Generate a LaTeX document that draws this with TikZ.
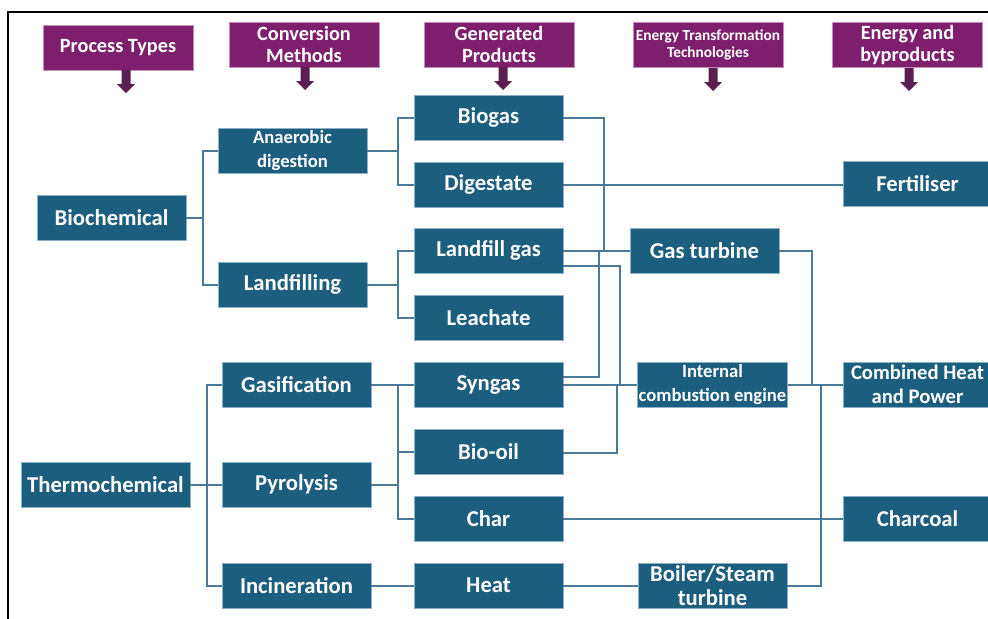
\documentclass[tikz,border=0pt]{standalone}
\usepackage{fontspec}
\setmainfont{Carlito}
\usetikzlibrary{calc}
\definecolor{teal1}{HTML}{1C5E7E}
\definecolor{tealline}{HTML}{8DB2C6}
\definecolor{purp}{HTML}{7D1F6D}
\definecolor{purpline}{HTML}{C48DB8}
\definecolor{arrc}{HTML}{5A1E50}
\definecolor{conn}{HTML}{4A7A96}
\tikzset{
  tbox/.style={fill=teal1, draw=tealline, line width=0.5pt, text=white, align=center,
    inner sep=1pt, font=\fontsize{17}{18}\selectfont\bfseries},
  hbox/.style={fill=purp, draw=purpline, line width=0.5pt, text=white, align=center,
    inner sep=1pt, minimum width=150*0.75pt, minimum height=45*0.75pt,
    font=\fontsize{15.2}{16}\selectfont\bfseries},
  cline/.style={draw=conn, line width=1.5pt},
}
\newcommand\mybox[6]{\node[tbox, minimum width=#4*0.75pt, minimum height=#5*0.75pt] (#1) at (#2,#3) {#6};}
\newcommand\dnarrow[3]{\fill[arrc] (#1-4.5,#2) -- (#1+4.5,#2) -- (#1+4.5,#3-9) -- (#1+9,#3-9) -- (#1,#3) -- (#1-9,#3-9) -- (#1-4.5,#3-9) -- cycle;}
\begin{document}
\begin{tikzpicture}[x=0.75pt,y=-0.75pt]
\useasboundingbox (0,0) rectangle (988,618);
\fill[white] (0,0) rectangle (988,618);
\draw[line width=1.5pt] (8,640) -- (8,12) -- (1010,12);

% headers
\node[hbox] (h1) at (118,47.5) {Process Types};
\node[hbox] (h2) at (304,44.5) {Conversion\\Methods};
\node[hbox] (h3) at (499,44.5) {Generated\\Products};
\node[hbox, font=\fontsize{11.5}{12.5}\selectfont\bfseries] (h4) at (708,45) {Energy Transformation\\Technologies};
\node[hbox] (h5) at (907.5,45) {Energy and\\byproducts};
\dnarrow{126}{70}{93}
\dnarrow{305}{67}{90}
\dnarrow{503}{67}{90}
\dnarrow{713}{68}{91}
\dnarrow{909}{68}{91}

% column 1
\mybox{bio}{111.5}{217.5}{149}{45}{Biochemical}
\mybox{thermo}{105.5}{484.5}{169}{45}{Thermochemical}
% column 2
\mybox{ana}{292.5}{150.5}{149}{45}{\fontsize{14}{15}\selectfont Anaerobic\\\fontsize{14}{15}\selectfont digestion}
\mybox{land}{292.5}{284.5}{149}{45}{Landfilling}
\mybox{gasif}{296.5}{384.5}{149}{45}{Gasification}
\mybox{pyro}{296.5}{484.5}{149}{45}{Pyrolysis}
\mybox{incin}{296.5}{585.5}{149}{45}{Incineration}
% column 3
\mybox{biogas}{488.5}{117.5}{149}{45}{Biogas}
\mybox{digest}{488.5}{184.5}{149}{45}{Digestate}
\mybox{lfgas}{488.5}{250.5}{149}{45}{Landfill gas}
\mybox{leach}{488.5}{317.5}{149}{45}{Leachate}
\mybox{syngas}{488.5}{384.5}{149}{45}{Syngas}
\mybox{biooil}{488.5}{451.5}{149}{45}{Bio-oil}
\mybox{char}{488.5}{518.5}{149}{45}{Char}
\mybox{heat}{488.5}{585.5}{149}{45}{Heat}
% column 4
\mybox{gt}{704.5}{250.5}{149}{45}{Gas turbine}
\mybox{ice}{712.5}{384.5}{149}{45}{\fontsize{14}{15}\selectfont Internal\\\fontsize{14}{15}\selectfont combustion engine}
\mybox{boiler}{712.5}{585.5}{149}{45}{Boiler/Steam\\turbine}
% column 5
\mybox{fert}{917.5}{183.5}{149}{45}{Fertiliser}
\mybox{chp}{917.5}{384.5}{149}{45}{\fontsize{15.5}{16}\selectfont Combined Heat\\\fontsize{15.5}{16}\selectfont and Power}
\mybox{charcoal}{917.5}{518.5}{149}{45}{Charcoal}

% junction coordinates
\coordinate (jbio) at (203,217.5);
\coordinate (jana) at (398,150.5);
\coordinate (jland) at (398,284.5);
\coordinate (jthermo) at (207,484.5);
\coordinate (jpyro) at (398,484.5);
\coordinate (jgt) at (604,250.5);
\coordinate (jsyn) at (599,250.5);
\coordinate (jice1) at (620,384.5);
\coordinate (jice2) at (617,384.5);
\coordinate (jchp1) at (812,384.5);
\coordinate (jchp2) at (821,384.5);

% connectors
\draw[cline] (bio.east) -- (jbio) |- (ana.west);
\draw[cline] (jbio) |- (land.west);
\draw[cline] (ana.east) -- (jana) |- (biogas.west);
\draw[cline] (jana) |- (digest.west);
\draw[cline] (land.east) -- (jland) |- (lfgas.west);
\draw[cline] (jland) |- (leach.west);
\draw[cline] (thermo.east) -- (jthermo) |- (gasif.west);
\draw[cline] (jthermo) |- (pyro.west);
\draw[cline] (jthermo) |- (incin.west);
\draw[cline] (gasif.east) -- (syngas.west);
\draw[cline] (pyro.east) -- (jpyro);
\draw[cline] (jpyro |- syngas.west) -- (jpyro) |- (biooil.west);
\draw[cline] (jpyro) |- (char.west);
\draw[cline] (incin.east) -- (heat.west);

\draw[cline] (biogas.east) -| (jgt);
\draw[cline] (lfgas.east) -- (gt.west);
\draw[cline] ([yshift=5.5pt]syngas.east) -| (jsyn);
\draw[cline] ([yshift=-11.5pt]lfgas.east) -| (jice1);
\draw[cline] (syngas.east) -- (ice.west);
\draw[cline] ([yshift=-1pt]biooil.east) -| (jice2);
\draw[cline] (heat.east) -- (boiler.west);
\draw[cline] (digest.east) -- (digest.east -| fert.west);
\draw[cline] (char.east) -- (charcoal.west);

\draw[cline] (gt.east) -| (jchp1);
\draw[cline] (ice.east) -- (chp.west);
\draw[cline] (boiler.east) -| (jchp2);
\end{tikzpicture}
\end{document}
